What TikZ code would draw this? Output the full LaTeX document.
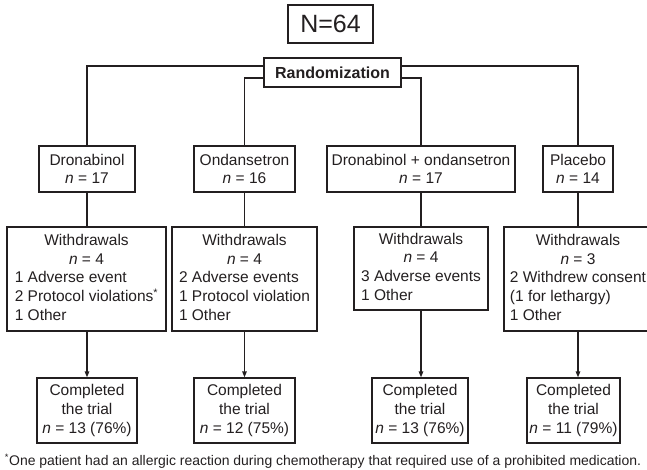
\documentclass[tikz,border=0pt]{standalone}
\usepackage{fontspec}
\setmainfont{Liberation Sans}
\usetikzlibrary{arrows.meta}
\definecolor{ink}{HTML}{231F20}
\begin{document}
\begin{tikzpicture}[x=1pt,y=-1pt,
  every node/.style={text=ink},
  box/.style={draw=ink, line width=1.3pt, inner sep=0pt, align=center,
    font=\fontsize{15.5}{18.7}\selectfont},
  conn/.style={draw=ink, line width=1.3pt},
  arr/.style={conn, -{Triangle[length=6pt,width=4.5pt]}}
]
\useasboundingbox (0,0) rectangle (647,470);
\clip (0,0) rectangle (647,470);

% top
\node[box, minimum width=85pt, minimum height=38pt, font=\fontsize{25}{28}\selectfont] (N) at (330.5,24) {N=64};
\node[box, minimum width=137pt, minimum height=29pt, font=\fontsize{16}{18}\selectfont\bfseries] (rand) at (332.5,72.5) {Randomization};

% arms
\node[box, minimum width=96pt, minimum height=46pt] (dron) at (87,169) {Dronabinol\\ \textit{n} = 17};
\node[box, minimum width=101pt, minimum height=46pt] (ond) at (244.5,169) {Ondansetron\\ \textit{n} = 16};
\node[box, minimum width=188pt, minimum height=46pt] (dro) at (421,169) {Dronabinol + ondansetron\\ \textit{n} = 17};
\node[box, minimum width=70pt, minimum height=46pt] (plac) at (578,169) {Placebo\\ \textit{n} = 14};

% withdrawals
\node[box, minimum width=159pt, minimum height=104pt] (w1) at (86.5,279) {\begin{tabular}{@{}l@{}}
\multicolumn{1}{@{}c@{}}{Withdrawals}\\
\multicolumn{1}{@{}c@{}}{\textit{n} = 4}\\
1 Adverse event\\
2 Protocol violations\textsuperscript{*}\\
1 Other\end{tabular}};
\node[box, minimum width=145pt, minimum height=104pt] (w2) at (244.5,279) {\begin{tabular}{@{}l@{}}
\multicolumn{1}{@{}c@{}}{Withdrawals}\\
\multicolumn{1}{@{}c@{}}{\textit{n} = 4}\\
2 Adverse events\\
1 Protocol violation\\
1 Other\end{tabular}};
\node[box, minimum width=134pt, minimum height=83pt] (w3) at (421,268.5) {\begin{tabular}{@{}l@{}}
\multicolumn{1}{@{}c@{}}{Withdrawals}\\
\multicolumn{1}{@{}c@{}}{\textit{n} = 4}\\
3 Adverse events\\
1 Other\end{tabular}};
\node[box, minimum width=148pt, minimum height=104pt] (w4) at (578,279) {\begin{tabular}{@{}l@{}}
\multicolumn{1}{@{}c@{}}{Withdrawals}\\
\multicolumn{1}{@{}c@{}}{\textit{n} = 3}\\
2 Withdrew consent\\
(1 for lethargy)\\
1 Other\end{tabular}};

% completed
\node[box, minimum width=100pt, minimum height=65pt] (c1) at (87,410.5) {Completed\\the trial\\\textit{n} = 13 (76\%)};
\node[box, minimum width=101pt, minimum height=65pt] (c2) at (244.5,410.5) {Completed\\the trial\\\textit{n} = 12 (75\%)};
\node[box, minimum width=96pt, minimum height=65pt] (c3) at (420,410.5) {Completed\\the trial\\\textit{n} = 13 (76\%)};
\node[box, minimum width=93pt, minimum height=65pt] (c4) at (573.5,410.5) {Completed\\the trial\\\textit{n} = 11 (79\%)};

% connectors
\draw[conn] ([yshift=6.5pt]rand.west) -| (dron.north);
\draw[conn] ([yshift=6.5pt]rand.east) -| (plac.north);
\draw[conn] ([yshift=-5.5pt]rand.west) -| (ond.north);
\draw[conn] ([yshift=-5.5pt]rand.east) -| (dro.north);

\draw[conn] (dron.south) -- (dron.south |- w1.north);
\draw[conn] (ond.south) -- (ond.south |- w2.north);
\draw[conn] (dro.south) -- (dro.south |- w3.north);
\draw[conn] (plac.south) -- (plac.south |- w4.north);

\draw[arr] (dron.south |- w1.south) -- (dron.south |- c1.north);
\draw[arr] (ond.south |- w2.south) -- (ond.south |- c2.north);
\draw[arr] (dro.south |- w3.south) -- (dro.south |- c3.north);
\draw[arr] (plac.south |- w4.south) -- (plac.south |- c4.north);

% footnote
\node[anchor=center, inner sep=0pt] (fn) at (323,461) {\resizebox{636pt}{!}{\fontsize{12}{14}\selectfont\textsuperscript{*}One patient had an allergic reaction during chemotherapy that required use of a prohibited medication.}};
\end{tikzpicture}
\end{document}
